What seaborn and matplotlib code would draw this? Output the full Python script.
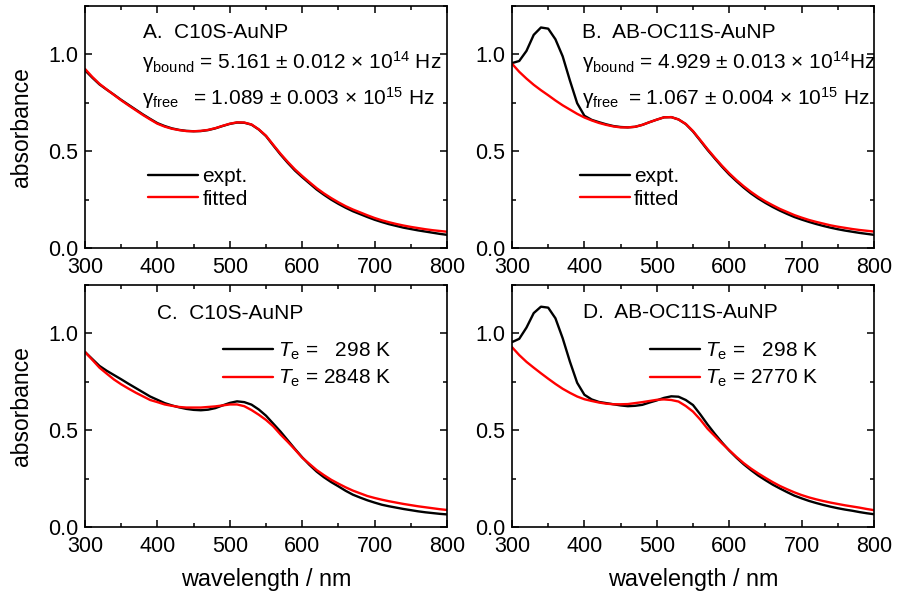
import matplotlib
matplotlib.use('Agg')
import matplotlib.pyplot as plt
from matplotlib.ticker import MultipleLocator
import seaborn as sns
import numpy as np

wavelength = np.arange(300, 801, 10)

# C10S-AuNP
c10s_expt = [0.918, 0.880, 0.845, 0.818, 0.792, 0.765, 0.740, 0.715, 0.690, 0.667,
             0.645, 0.630, 0.618, 0.610, 0.605, 0.603, 0.604, 0.609, 0.618, 0.630,
             0.641, 0.648, 0.647, 0.637, 0.612, 0.578, 0.530, 0.483, 0.440, 0.400,
             0.366, 0.334, 0.302, 0.275, 0.250, 0.228, 0.208, 0.190, 0.175, 0.160,
             0.146, 0.134, 0.123, 0.114, 0.105, 0.098, 0.091, 0.085, 0.079, 0.073, 0.068]
c10s_fit = [0.925, 0.884, 0.848, 0.819, 0.791, 0.763, 0.737, 0.712, 0.687, 0.664,
            0.642, 0.627, 0.616, 0.609, 0.604, 0.603, 0.605, 0.610, 0.619, 0.631,
            0.642, 0.649, 0.648, 0.638, 0.613, 0.580, 0.533, 0.487, 0.445, 0.406,
            0.372, 0.340, 0.309, 0.282, 0.258, 0.236, 0.216, 0.199, 0.184, 0.169,
            0.155, 0.143, 0.133, 0.124, 0.116, 0.109, 0.103, 0.097, 0.092, 0.088, 0.084]
c10s_te298 = [0.904, 0.868, 0.832, 0.807, 0.785, 0.763, 0.740, 0.718, 0.696, 0.674,
              0.657, 0.640, 0.628, 0.618, 0.610, 0.605, 0.603, 0.606, 0.614, 0.628,
              0.641, 0.649, 0.645, 0.632, 0.607, 0.575, 0.534, 0.493, 0.448, 0.403,
              0.360, 0.321, 0.286, 0.257, 0.232, 0.210, 0.187, 0.167, 0.152, 0.138,
              0.126, 0.115, 0.107, 0.100, 0.093, 0.087, 0.081, 0.076, 0.072, 0.068, 0.065]
c10s_te2848 = [0.904, 0.864, 0.823, 0.792, 0.762, 0.737, 0.715, 0.694, 0.675, 0.656,
               0.645, 0.633, 0.626, 0.620, 0.617, 0.617, 0.617, 0.620, 0.623, 0.628,
               0.633, 0.633, 0.624, 0.604, 0.580, 0.553, 0.520, 0.478, 0.440, 0.400,
               0.358, 0.326, 0.294, 0.268, 0.244, 0.224, 0.205, 0.188, 0.174, 0.160,
               0.150, 0.141, 0.133, 0.126, 0.119, 0.113, 0.107, 0.102, 0.097, 0.092, 0.088]

# AB-OC11S-AuNP
ab_expt = [0.955, 0.966, 1.018, 1.101, 1.139, 1.133, 1.078, 0.990, 0.865, 0.748,
           0.683, 0.662, 0.650, 0.639, 0.630, 0.625, 0.623, 0.626, 0.636, 0.650,
           0.663, 0.675, 0.676, 0.664, 0.640, 0.602, 0.555, 0.507, 0.463, 0.420,
           0.380, 0.345, 0.312, 0.282, 0.256, 0.233, 0.212, 0.193, 0.176, 0.160,
           0.147, 0.135, 0.124, 0.114, 0.105, 0.097, 0.090, 0.084, 0.078, 0.073, 0.068]
ab_fit = [0.952, 0.910, 0.875, 0.843, 0.815, 0.789, 0.762, 0.737, 0.715, 0.693,
          0.674, 0.659, 0.646, 0.636, 0.628, 0.623, 0.623, 0.626, 0.636, 0.650,
          0.663, 0.675, 0.676, 0.664, 0.641, 0.604, 0.558, 0.511, 0.467, 0.425,
          0.386, 0.351, 0.319, 0.290, 0.264, 0.241, 0.221, 0.202, 0.186, 0.170,
          0.157, 0.145, 0.135, 0.126, 0.117, 0.110, 0.104, 0.098, 0.093, 0.089, 0.085]
ab_te298 = [0.955, 0.972, 1.030, 1.105, 1.138, 1.133, 1.078, 0.975, 0.854, 0.745,
            0.683, 0.659, 0.646, 0.640, 0.634, 0.628, 0.624, 0.626, 0.631, 0.643,
            0.654, 0.667, 0.675, 0.673, 0.656, 0.630, 0.582, 0.530, 0.482, 0.437,
            0.395, 0.358, 0.324, 0.294, 0.266, 0.242, 0.219, 0.199, 0.180, 0.162,
            0.148, 0.135, 0.124, 0.114, 0.105, 0.097, 0.090, 0.084, 0.077, 0.071, 0.066]
ab_te2770 = [0.929, 0.888, 0.853, 0.823, 0.794, 0.766, 0.739, 0.714, 0.693, 0.674,
             0.660, 0.651, 0.643, 0.637, 0.634, 0.634, 0.635, 0.640, 0.645, 0.651,
             0.657, 0.659, 0.656, 0.648, 0.625, 0.596, 0.555, 0.508, 0.470, 0.432,
             0.397, 0.362, 0.330, 0.302, 0.277, 0.254, 0.232, 0.212, 0.195, 0.179,
             0.165, 0.153, 0.143, 0.134, 0.126, 0.119, 0.112, 0.106, 0.100, 0.093, 0.087]

sns.set_style('ticks')
plt.rcParams['font.family'] = ['Liberation Sans', 'DejaVu Sans']
plt.rcParams['mathtext.fontset'] = 'custom'
plt.rcParams['mathtext.rm'] = 'Liberation Sans'
plt.rcParams['mathtext.it'] = 'Liberation Sans:italic'
for key in ['text.color', 'axes.labelcolor', 'xtick.color', 'ytick.color', 'axes.edgecolor']:
    plt.rcParams[key] = 'black'

fig = plt.figure(figsize=(8.99, 5.96), dpi=100)
W, H = 899, 596


def make_ax(left, top, right, bottom):
    return fig.add_axes([left / W, 1 - bottom / H, (right - left) / W, (bottom - top) / H])


axA = make_ax(85, 6, 447, 248)
axB = make_ax(512, 6, 874, 248)
axC = make_ax(85, 285, 447, 527)
axD = make_ax(512, 285, 874, 527)

panels = [
    (axA, c10s_expt, c10s_fit, 'expt.', 'fitted'),
    (axB, ab_expt, ab_fit, 'expt.', 'fitted'),
    (axC, c10s_te298, c10s_te2848, r'$T_{\rm e}$ =   298 K', r'$T_{\rm e}$ = 2848 K'),
    (axD, ab_te298, ab_te2770, r'$T_{\rm e}$ =   298 K', r'$T_{\rm e}$ = 2770 K'),
]

for ax, black, red, lab1, lab2 in panels:
    sns.lineplot(x=wavelength, y=black, ax=ax, color='black', lw=1.7, label=lab1)
    sns.lineplot(x=wavelength, y=red, ax=ax, color='#ff0000', lw=1.7, label=lab2)
    ax.set_xlim(300, 800)
    ax.set_ylim(0, 1.25)
    ax.xaxis.set_major_locator(MultipleLocator(100))
    ax.xaxis.set_minor_locator(MultipleLocator(50))
    ax.yaxis.set_major_locator(MultipleLocator(0.5))
    ax.yaxis.set_minor_locator(MultipleLocator(0.25))
    ax.tick_params(which='both', direction='in', top=True, right=True, width=1.1,
                   labelsize=15.5)
    ax.tick_params(axis='x', pad=6.5)
    ax.tick_params(axis='y', pad=5)
    ax.tick_params(which='major', length=5)
    ax.tick_params(which='minor', length=3)
    for s in ax.spines.values():
        s.set_linewidth(1.2)
    ax.set_xlabel('')
    ax.set_ylabel('')

for ax in (axA, axC):
    ax.set_ylabel('absorbance', fontsize=16.5)
    ax.yaxis.set_label_coords(-0.145, 0.5)
for ax in (axC, axD):
    ax.set_xlabel('wavelength / nm', fontsize=16.8)
    ax.xaxis.set_label_coords(0.5, -0.17)

fs = 15
# legends
axA.legend(loc='center left', bbox_to_anchor=(0.175, 0.248), frameon=False, fontsize=fs,
           handlelength=2.4, handletextpad=0.2, borderpad=0, borderaxespad=0, labelspacing=0.15)
axB.legend(loc='center left', bbox_to_anchor=(0.188, 0.248), frameon=False, fontsize=fs,
           handlelength=2.4, handletextpad=0.2, borderpad=0, borderaxespad=0, labelspacing=0.15)
axC.legend(loc='center left', bbox_to_anchor=(0.38, 0.67), frameon=False, fontsize=fs,
           handlelength=2.4, handletextpad=0.25, borderpad=0, borderaxespad=0, labelspacing=0.3)
axD.legend(loc='center left', bbox_to_anchor=(0.38, 0.67), frameon=False, fontsize=fs,
           handlelength=2.4, handletextpad=0.25, borderpad=0, borderaxespad=0, labelspacing=0.3)

# annotations
axA.text(0.16, 0.867, 'A.  C10S-AuNP', transform=axA.transAxes, fontsize=fs)
axA.text(0.157, 0.739, r'γ$_{\rm bound}$ = 5.161 ± 0.012 × 10$^{14}$ Hz',
         transform=axA.transAxes, fontsize=fs)
axA.text(0.157, 0.593, r'γ$_{\rm free}$', transform=axA.transAxes, fontsize=fs)
axA.text(0.299, 0.593, r'= 1.089 ± 0.003 × 10$^{15}$ Hz', transform=axA.transAxes, fontsize=fs)

axB.text(0.193, 0.866, 'B.  AB-OC11S-AuNP', transform=axB.transAxes, fontsize=fs)
axB.text(0.193, 0.739, r'γ$_{\rm bound}$ = 4.929 ± 0.013 × 10$^{14}$Hz',
         transform=axB.transAxes, fontsize=fs)
axB.text(0.193, 0.593, r'γ$_{\rm free}$', transform=axB.transAxes, fontsize=fs)
axB.text(0.321, 0.593, r'= 1.067 ± 0.004 × 10$^{15}$ Hz', transform=axB.transAxes, fontsize=fs)

axC.text(0.198, 0.858, 'C.  C10S-AuNP', transform=axC.transAxes, fontsize=fs)
axD.text(0.197, 0.862, 'D.  AB-OC11S-AuNP', transform=axD.transAxes, fontsize=fs)

fig.savefig('out.png', dpi=100)
